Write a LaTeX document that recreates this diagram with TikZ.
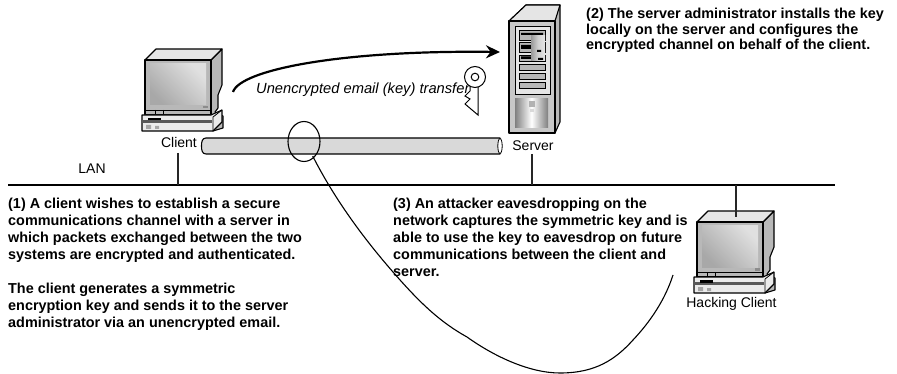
\documentclass[tikz,border=0pt]{standalone}
\usepackage{fontspec}
\setmainfont{Liberation Sans}
\usetikzlibrary{arrows.meta,shapes.geometric}
\tikzset{
  px/.style={x=1pt,y=-1pt},
  note/.style={font=\bfseries\fontsize{14.4}{17}\selectfont,align=left,anchor=north west,inner sep=0pt},
  noteb/.style={font=\bfseries\fontsize{14.4}{15.5}\selectfont,align=left,anchor=north west,inner sep=0pt},
  lbl/.style={font=\fontsize{14}{16}\selectfont,inner sep=0pt},
  ol/.style={draw=black,line width=1.1pt,line join=round},
  wire/.style={draw=black!85,line width=1.4pt},
  pcbody/.pic={
    \path[ol,fill=white!72!black] (66,0) -- (77,-11) -- (77,25) -- (73,35) -- (73,48) -- (70,52) -- (78,56) -- (78,68) -- (68,71) -- (66,55) -- cycle;
    \path[ol,fill=white!90!black] (0,0) -- (11,-11) -- (77,-11) -- (66,0) -- cycle;
    \path[ol,fill=white!72!black] (0,0) rectangle (66,55);
    \path[left color=white!66!black,right color=white!88!black,shading angle=135] (5,4) rectangle (61,45);
    \path[fill=white!55!black] (58,46) rectangle (63,48.5);
    \path[draw=black,line width=.6pt] (0,50) -- (66,50) (10,50) -- (10,55) (18,50) -- (18,55);
    \path[ol,fill=white!92!black] (-3,55) -- (66,55) -- (77,50) -- (77,62) -- (68,71) -- (-3,71) -- cycle;
    \path[draw=black,line width=.8pt] (68,57) -- (68,71) (68,57) -- (77,50);
    \path[fill=white!35!black] (-3,60) rectangle (67,63);
    \path[fill=black] (3,58) rectangle (16,60.5);
    \path[fill=white!65!black] (1,65) rectangle (6,69) (10,66) rectangle (14,69);
  }
}
\begin{document}
\begin{tikzpicture}[px]
\useasboundingbox (0,0) rectangle (897,374);
% pipe
\path[ol,fill=white!85!black] (206,138) -- (500,138) -- (500,154) -- (206,154) .. controls (202,154) and (201.5,150) .. (201.5,146) .. controls (201.5,142) and (202,138) .. (206,138) -- cycle;
\draw[line width=.8pt,fill=white] (500,146) ellipse (2.2 and 7.5);
% client
\pic at (145,60) {pcbody};
\node[lbl] (client) at (179,142) {Client};
% server
\path[ol,fill=white!72!black] (509,21) -- (526,5) -- (560,5) -- (560,122) -- (555,133) -- cycle;
\path[ol,fill=white!90!black] (509,21) -- (526,5) -- (560,5) -- (555,21) -- cycle;
\path[ol,fill=white!78!black] (509,21) rectangle (555,133);
\path[draw=black,line width=.7pt,fill=white!90!black] (515,26) rectangle (550,94);
\foreach \ya/\yb in {30/40,42/52,55/61,64/70,73/79,82/88}{
  \path[draw=black,line width=.7pt,fill=white!72!black] (519,\ya) rectangle (545,\yb);
}
\path[fill=black] (521,33) rectangle (543,35) (521,45) rectangle (531,49) (521,56.5) rectangle (531,59);
\path[left color=white!60!black,right color=white!90!black,middle color=white!82!black] (531,36) rectangle (545,61);
\path[fill=black] (537,50) rectangle (541,52) (538,58) rectangle (543,60);
\path[left color=white!50!black,right color=white!50!black,middle color=white] (515,99) rectangle (548,128);
\path[fill=white!70!black] (529,101) rectangle (535,107);
\path[fill=white!85!black] (530,109) rectangle (534,112);
\node[lbl] (server) at (533,146) {Server};
% hacker
\pic at (697,222) {pcbody};
\node[lbl] (hacker) at (731.5,304) {Hacking Client};
% LAN
\coordinate (lanL) at (8,185);
\coordinate (lanR) at (835,185);
\draw[line width=1.7pt] (lanL) -- (lanR);
\coordinate (tapC) at (178,185);
\coordinate (tapCt) at (178,153);
\coordinate (tapS) at (532,185);
\coordinate (tapSt) at (532,154);
\coordinate (tapH) at (736,185);
\coordinate (pcH) at (736,217);
\draw[wire] (tapCt) -- (tapC);
\draw[wire] (tapSt) -- (tapS);
\draw[wire] (tapH) -- (pcH);
\node[lbl] (lan) at (92,169) {LAN};
% arrow
\coordinate (arrS) at (233,92);
\coordinate (arrE) at (500,52);
\draw[line width=2.2pt,-{Stealth[length=14pt,width=13pt]}] (arrS) .. controls (240,70) and (340,50) .. (arrE);
\node[font=\itshape\fontsize{14.7}{16}\selectfont,inner sep=0pt,anchor=west] (xfer) at (256,89.5) {Unencrypted email (key) transfer};
% key
\path[draw=black,line width=1pt,fill=white] (470,86) -- (470,91) -- (465,96) -- (470,99) -- (465,104) -- (478,115) -- (478,86);
\draw[line width=1pt,fill=white] (475,77) circle (10.5);
\draw[line width=1pt,fill=white] (475,77) circle (3.8);
% capture
\node[ellipse,draw=black,line width=1.1pt,minimum width=32pt,minimum height=40pt,inner sep=0pt] (tap) at (304,141.5) {};
\coordinate (hk) at (673,275);
\draw[line width=1.1pt] (tap.south east) ++(-3,0) .. controls (335,200) and (365,240) .. (393,272) .. controls (420,303) and (440,322) .. (467,337) .. controls (495,357) and (530,373) .. (560,373) .. controls (595,373) and (615,360) .. (633,340) .. controls (650,322) and (665,300) .. (hk);
% notes
\node[note] (n1) at (8,198) {(1) A client wishes to establish a secure\\communications channel with a server in\\which packets exchanged between the two\\systems are encrypted and authenticated.\\[17pt]The client generates a symmetric\\encryption key and sends it to the server\\administrator via an unencrypted email.};
\node[noteb] (n2) at (586,8) {(2) The server administrator installs the key\\locally on the server and configures the\\encrypted channel on behalf of the client.};
\node[note] (n3) at (393,198) {(3) An attacker eavesdropping on the\\network captures the symmetric key and is\\able to use the key to eavesdrop on future\\communications between the client and\\server.};
\end{tikzpicture}
\end{document}
